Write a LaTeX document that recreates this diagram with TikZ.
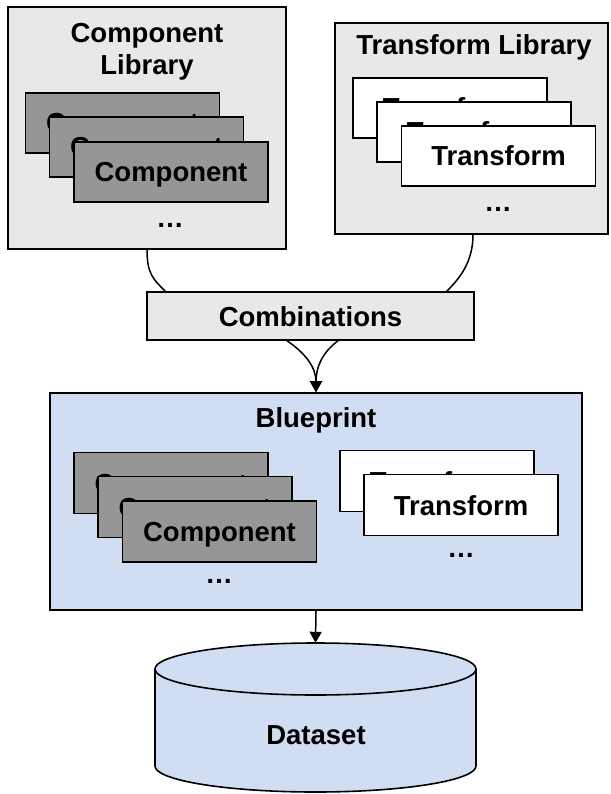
\documentclass[tikz,border=0pt]{standalone}
\usepackage{fontspec}
\setmainfont{Liberation Sans}
\usetikzlibrary{arrows.meta,calc}
\definecolor{libgray}{RGB}{232,232,232}
\definecolor{compgray}{RGB}{150,150,150}
\definecolor{bpblue}{RGB}{209,221,242}
\begin{document}
\begin{tikzpicture}[x=1pt,y=-1pt,
  every node/.style={font=\fontsize{27.5}{33}\selectfont\bfseries, inner sep=0pt},
  frame/.style={draw, line width=1.6pt, rectangle},
  lib/.style={frame, fill=libgray},
  boxtext/.style={text height=20pt, text depth=0pt},
  compbox/.style={frame, boxtext, fill=compgray, minimum width=194pt, minimum height=60pt},
  trbox/.style={frame, boxtext, fill=white, minimum width=194pt, minimum height=60pt},
  lbl/.style={anchor=base},
  conn/.style={line width=1.5pt},
  arr/.style={conn, -{Triangle[length=11pt,width=12pt]}}
]
\useasboundingbox (0,0) rectangle (610,794);

% Component Library
\node[lib, minimum width=278pt, minimum height=242pt] (complib) at (147,128) {};
\node[lbl] (clt1) at (147,43) {Component};
\node[lbl] (clt2) at (147,75) {Library};
\node[compbox] (comp1) at (122.5,123) {Component};
\node[compbox] (comp2) at (146.5,147) {Component};
\node[compbox] (comp3) at (171,172) {Component};
\node[lbl] (cdots) at (170,227) {…};

% Transform Library
\node[lib, minimum width=273pt, minimum height=211pt] (translib) at (471.5,128.5) {};
\node[lbl] (tlt) at (474,55) {Transform Library};
\node[trbox] (tr1) at (450,108) {Transform};
\node[trbox] (tr2) at (474,132) {Transform};
\node[trbox] (tr3) at (498.5,156) {Transform};
\node[lbl] (tdots) at (498,212) {…};

% Combinations
\node[lib, boxtext, minimum width=327pt, minimum height=48pt] (comb) at (310.5,316) {Combinations};

% Blueprint
\node[frame, fill=bpblue, minimum width=532pt, minimum height=217pt] (bp) at (316,501.5) {};
\node[lbl] (bpt) at (316,427) {Blueprint};
\node[compbox, minimum height=61pt] (bpc1) at (171,483) {Component};
\node[compbox, minimum height=61pt] (bpc2) at (195,507) {Component};
\node[compbox, minimum height=61pt] (bpc3) at (219.5,531.5) {Component};
\node[lbl] (bcdots) at (219,583) {…};
\node[trbox, minimum height=61pt] (bpt1) at (437,481) {Transform};
\node[trbox, minimum height=61pt] (bpt2) at (461,505) {Transform};
\node[lbl] (btdots) at (461,557) {…};

% Dataset cylinder
\node[minimum width=321pt, minimum height=149pt] (dataset) at (315.5,717.5) {};
\filldraw[fill=bpblue, line width=1.6pt] (155,669) -- (155,766)
  arc[start angle=180, end angle=0, x radius=160.5, y radius=26] -- (476,669)
  arc[start angle=0, end angle=-180, x radius=160.5, y radius=26] -- cycle;
\draw[line width=1.6pt] (155,669) arc[start angle=180, end angle=0, x radius=160.5, y radius=26];
\node[lbl] (dstxt) at (316,744) {Dataset};

% Connectors
\draw[conn] (complib.south) .. controls +(0,24) and +(-12,-12) .. ($(comb.north west)+(19,0)$);
\draw[conn] ($(translib.south)+(1.5,0)$) .. controls +(0,28) and +(12,-12) .. ($(comb.north east)+(-28,0)$);
\draw[arr] ($(comb.south)+(-23.5,0)$) .. controls +(18,12) and +(0,-25) .. (bp.north);
\draw[arr] ($(comb.south)+(27.5,0)$) .. controls +(-16,12) and +(0,-25) .. (bp.north);
\draw[arr] (bp.south) -- (dataset.north);
\end{tikzpicture}
\end{document}
